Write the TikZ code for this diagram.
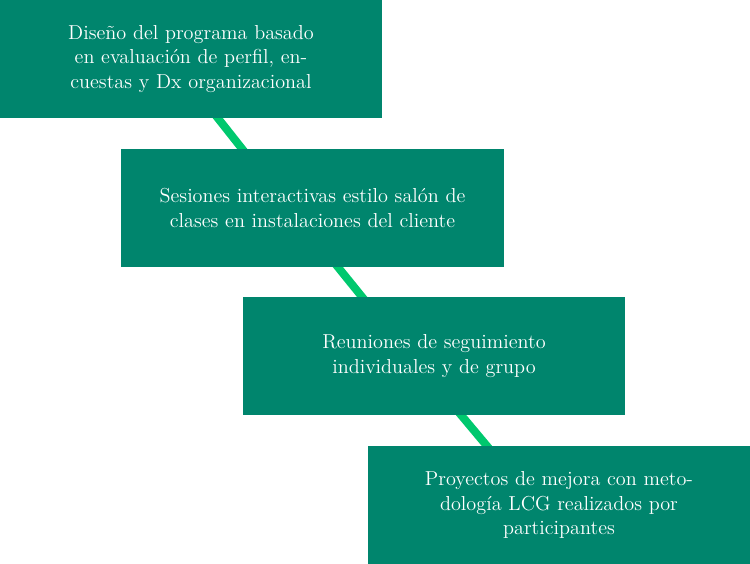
\documentclass[tikz,border=0pt]{standalone}
\usetikzlibrary{positioning}
\definecolor{boxteal}{RGB}{0,133,109}
\definecolor{linkgreen}{RGB}{0,200,110}
\begin{document}
\begin{tikzpicture}[x={(0.2mm,0mm)}, y={(0mm,-0.2mm)}]
  \tikzstyle{step box}=[fill=boxteal, text=white, minimum width=76.4mm, minimum height=23.6mm,
    inner sep=0pt, text width=66mm, align=center, font=\fontsize{11.5}{13.8}\selectfont]
  \tikzstyle{link}=[draw=linkgreen, line width=1.6mm]

\useasboundingbox (0, 0) rectangle (750, 564);

\coordinate (c1a) at (213, 112);
\coordinate (c1b) at (247, 155);
\coordinate (c2a) at (333, 261);
\coordinate (c2b) at (367, 303);
\coordinate (c3a) at (456, 409);
\coordinate (c3b) at (492, 452);
\draw[link] (c1a) -- (c1b);
\draw[link] (c2a) -- (c2b);
\draw[link] (c3a) -- (c3b);

\node[step box] (b1) at (191, 59) {Diseño del programa basado en evaluación de perfil, encuestas y Dx organizacional};

\node[step box] (b2) at (312.5, 208) {Sesiones interactivas estilo salón de clases en instalaciones del cliente};

\node[step box] (b3) at (434, 356) {Reuniones de seguimiento\\ individuales y de grupo};

\node[step box] (b4) at (559, 505) {Proyectos de mejora con meto-\\dología LCG realizados por\\ participantes};

\end{tikzpicture}
\end{document}
